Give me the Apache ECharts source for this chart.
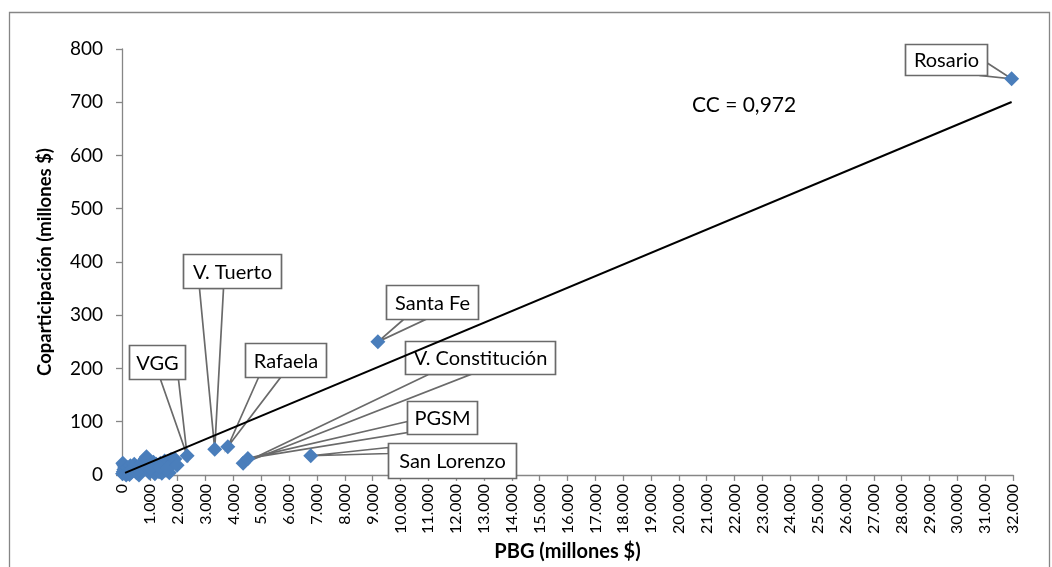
<!DOCTYPE html>
<html>
<head>
<meta charset="utf-8">
<script src="https://cdn.jsdelivr.net/npm/echarts@6/dist/echarts.min.js"></script>
<style>
  html, body { margin: 0; padding: 0; background: #ffffff; }
  #chart { width: 1052px; height: 567px; }
</style>
</head>
<body>
<div id="chart"></div>
<script>
// Localidades destacadas: PBG y coparticipación (millones $)
const cityNames = ['Rosario', 'Santa Fe', 'V. Tuerto', 'Rafaela', 'VGG', 'V. Constitución', 'PGSM', 'San Lorenzo'];
const cityPBG   = [31950, 9190, 3330, 3800, 2340, 4350, 4520, 6780];
const cityCop   = [744, 250, 48, 53, 36, 22, 31, 36];

// Resto de localidades (agrupadas cerca del origen)
const otherPBG = [20, 45, 70, 95, 60, 120, 30, 160, 210, 250, 300, 340, 390, 440, 480, 530, 580, 640, 690, 740,
                  790, 840, 880, 930, 980, 1030, 1080, 1130, 1180, 1230, 1280, 1330, 1380, 1430, 1480, 1530, 1580,
                  1630, 1700, 1760, 1820, 1900, 150, 270, 610, 860, 360, 520, 1010, 1350, 1660, 1980];
const otherCop = [2, 6, 10, 15, 19, 12, 22, 4, 14, 8, 17, 5, 12, 20, 9, 15, 3, 18, 11, 23,
                  27, 31, 34, 29, 4, 17, 10, 24, 2, 20, 13, 6, 22, 3, 14, 26, 9,
                  21, 4, 29, 24, 30, 0, 1, 0, 16, 10, 4, 12, 15, 13, 18];

// Recta de ajuste lineal (extremos)
const trendPBG = [110, 31950];
const trendCop = [3.9, 700.5];

// Ejes
const xMax = 32000, xStep = 1000;
const yMax = 800, yStep = 100;
const ccText = 'CC = 0,972';

const FONT = 'Lato, "Open Sans", sans-serif';
const GRAY = '#868686';
const EDGE = '#6a6a6a';
const BLUE = '#4A7EBB';

// Cajas de las etiquetas: desplazamiento respecto al punto, tamaño y base de la cuña
const calloutLayout = {
  'Rosario':         { dx: -107, dy: -35,  w: 82,  h: 31, base: [[81, 18], [75, 31]] },
  'Santa Fe':        { dx: 8,    dy: -57,  w: 92,  h: 34, base: [[17, 34], [39, 34]] },
  'V. Tuerto':       { dx: -32,  dy: -195, w: 98,  h: 34, base: [[16, 34], [40, 34]] },
  'Rafaela':         { dx: 17,   dy: -104, w: 81,  h: 34, base: [[13, 34], [35, 34]] },
  'VGG':             { dx: -58,  dy: -111, w: 56,  h: 34, base: [[31, 34], [49, 34]] },
  'V. Constitución': { dx: 162,  dy: -122, w: 150, h: 33, base: [[23, 33], [65, 33]] },
  'PGSM':            { dx: 159,  dy: -57,  w: 70,  h: 33, base: [[0, 20], [0, 31]] },
  'San Lorenzo':     { dx: 77,   dy: -13,  w: 128, h: 35, base: [[0, 4], [0, 10]] }
};

const allPoints = cityPBG.map((v, i) => [v, cityCop[i]])
  .concat(otherPBG.map((v, i) => [v, otherCop[i]]));
const cityPoints = cityPBG.map((v, i) => [v, cityCop[i]]);
const trendPoints = trendPBG.map((v, i) => [v, trendCop[i]]);

function thousands(v) {
  if (v === 0) return '0';
  return String(v).replace(/\B(?=(\d{3})+(?!\d))/g, '.');
}

const chart = echarts.init(document.getElementById('chart'), null, { renderer: 'canvas' });

chart.setOption({
  backgroundColor: '#ffffff',
  animation: false,
  grid: { left: 122, right: 39, top: 49, bottom: 92, containLabel: false },
  xAxis: {
    type: 'value',
    min: 0, max: xMax, interval: xStep,
    name: 'PBG (millones $)',
    nameLocation: 'middle',
    nameGap: 66,
    nameTextStyle: { fontFamily: FONT, fontSize: 20, fontWeight: 'bold', color: '#000' },
    axisLine: { show: true, lineStyle: { color: GRAY, width: 1.3 } },
    axisTick: { show: true, inside: false, length: 6, lineStyle: { color: GRAY, width: 1.3 } },
    axisLabel: { rotate: 90, margin: 9, fontFamily: FONT, fontSize: 16, color: '#000', formatter: thousands },
    splitLine: { show: false }
  },
  yAxis: {
    type: 'value',
    min: 0, max: yMax, interval: yStep,
    name: 'Coparticipación (millones $)',
    nameLocation: 'middle',
    nameGap: 67,
    nameTextStyle: { fontFamily: FONT, fontSize: 18.5, fontWeight: 'bold', color: '#000' },
    axisLine: { show: true, lineStyle: { color: GRAY, width: 1.3 } },
    axisTick: { show: true, inside: false, length: 6, lineStyle: { color: GRAY, width: 1.3 } },
    axisLabel: { margin: 19, fontFamily: FONT, fontSize: 19, color: '#000' },
    splitLine: { show: false }
  },
  graphic: [
    {
      type: 'rect', silent: true, z: -10,
      shape: { x: 9.5, y: 12.5, width: 1040, height: 600 },
      style: { fill: 'none', stroke: GRAY, lineWidth: 1.3 }
    },
    {
      type: 'text', left: 692, top: 95, silent: true,
      style: { text: ccText, font: '21px ' + FONT, fill: '#000' }
    }
  ],
  series: [
    {
      // Etiquetas con cuña hacia cada localidad destacada
      type: 'custom',
      z: 1,
      clip: false,
      silent: true,
      data: cityPoints,
      renderItem: function (params, api) {
        const name = cityNames[params.dataIndex];
        const L = calloutLayout[name];
        const p = api.coord([api.value(0), api.value(1)]);
        const bx = Math.round(p[0] + L.dx) + 0.5;
        const by = Math.round(p[1] + L.dy) + 0.5;
        const b1 = [bx + L.base[0][0], by + L.base[0][1]];
        const b2 = [bx + L.base[1][0], by + L.base[1][1]];
        return {
          type: 'group',
          children: [
            {
              type: 'polygon',
              shape: { points: [b1, p, b2] },
              style: { fill: '#ffffff', stroke: EDGE, lineWidth: 1.7 }
            },
            {
              type: 'rect',
              shape: { x: bx, y: by, width: L.w, height: L.h },
              style: { fill: '#ffffff', stroke: EDGE, lineWidth: 1.7 }
            },
            {
              type: 'text',
              style: {
                text: name, x: bx + L.w / 2, y: by + L.h / 2 + 1,
                align: 'center', verticalAlign: 'middle',
                font: '20px ' + FONT, fill: '#000'
              }
            }
          ]
        };
      }
    },
    {
      type: 'scatter',
      z: 3,
      symbol: 'diamond',
      symbolSize: 15,
      itemStyle: { color: BLUE, opacity: 1 },
      data: allPoints
    },
    {
      type: 'line',
      z: 4,
      symbol: 'none',
      lineStyle: { color: '#000', width: 2 },
      data: trendPoints
    }
  ]
});
</script>
</body>
</html>
